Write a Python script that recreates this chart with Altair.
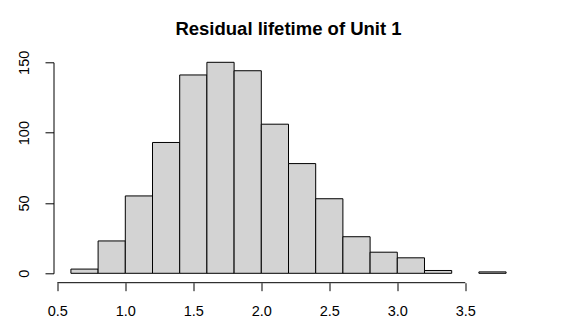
import altair as alt
import pandas as pd

# Histogram bins (left edges) and counts
bin_start = [0.6, 0.8, 1.0, 1.2, 1.4, 1.6, 1.8, 2.0, 2.2, 2.4, 2.6, 2.8, 3.0, 3.2, 3.4, 3.6]
counts = [3, 23, 55, 93, 141, 150, 144, 106, 78, 53, 26, 15, 11, 2, 0, 1]
bin_width = 0.2
x_ticks = [0.5, 1.0, 1.5, 2.0, 2.5, 3.0, 3.5]
y_ticks = [0, 50, 100, 150]
title_text = "Residual lifetime of Unit 1"

df = pd.DataFrame({
    "start": bin_start,
    "end": [round(s + bin_width, 2) for s in bin_start],
    "count": counts,
})
axis_df = pd.DataFrame({"a": [min(x_ticks)], "b": [max(x_ticks)]})

W, H = 470, 211
XOFF = 9.4
FONT = "Liberation Sans"

xscale = alt.Scale(domain=[0.472, 3.928], nice=False, zero=False)
yscale = alt.Scale(domain=[min(y_ticks), max(y_ticks)], nice=False)

bars = alt.Chart(df).transform_filter(alt.datum["count"] > 0).mark_rect(
    fill="#D3D3D3", stroke="black", strokeWidth=1
).encode(
    x=alt.X("start:Q", scale=xscale, title=None,
            axis=alt.Axis(values=x_ticks, format=".1f", domain=False, grid=False,
                          offset=XOFF, tickSize=8, tickColor="black", tickWidth=1,
                          labelColor="black", labelFont=FONT, labelFontSize=14.5,
                          labelPadding=14, labelFlush=False)),
    x2="end:Q",
    y=alt.Y("count:Q", scale=yscale, title=None,
            axis=alt.Axis(values=y_ticks, format="d", grid=False,
                          domainColor="black", domainWidth=1,
                          tickSize=8.5, tickColor="black", tickWidth=1,
                          labelColor="black", labelFont=FONT, labelFontSize=14.5,
                          labelAngle=-90, labelAlign="center", labelBaseline="bottom",
                          labelPadding=14, labelFlush=False)),
    y2=alt.datum(0),
)

xline = alt.Chart(axis_df).mark_rule(color="black", strokeWidth=1).encode(
    x=alt.X("a:Q", scale=xscale),
    x2="b:Q",
    y=alt.value(H + XOFF),
)

chart = alt.layer(bars, xline).properties(
    width=W, height=H,
    title=alt.TitleParams(title_text, font=FONT, fontSize=18.5, fontWeight="bold",
                          color="black", anchor="middle", offset=12),
    autosize=alt.AutoSizeParams(type="none"),
    padding={"left": 45.5, "top": 54.3, "right": 45.5, "bottom": 54.7},
).configure_view(stroke=None)

chart.save("out.html", embed_options={"renderer": "svg", "actions": False})
